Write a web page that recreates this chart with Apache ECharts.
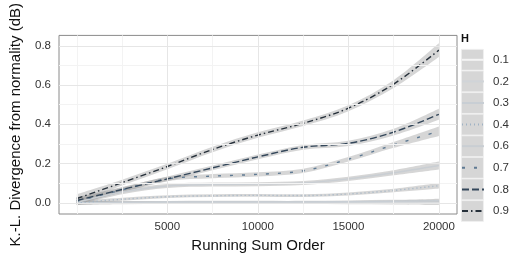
<!DOCTYPE html>
<html><head><meta charset="utf-8">
<script src="https://cdn.jsdelivr.net/npm/echarts@6/dist/echarts.min.js"></script>
<style>html,body{margin:0;padding:0;background:#fff}#c{width:512px;height:258px}</style>
</head><body><div id="c"></div>
<script>
// ---- data ----
const xs = [0, 2500, 5000, 7500, 10000, 12500, 15000, 17500, 20000];
const hLevels = ['0.1','0.2','0.3','0.4','0.6','0.7','0.8','0.9'];
const h01 = [-0.002,-0.001,-0.001,-0.001,-0.001,-0.001,-0.001,-0.001,-0.001];
const h02 = [-0.001,0.001,0.002,0.002,0.002,0.002,0.003,0.004,0.005];
const h03 = [0.0,0.003,0.004,0.005,0.005,0.005,0.006,0.008,0.011];
const h04 = [0.0,0.018,0.031,0.036,0.038,0.037,0.045,0.063,0.087];
const h06 = [0.002,0.055,0.086,0.093,0.095,0.101,0.122,0.153,0.19];
const h07 = [0.008,0.066,0.122,0.136,0.145,0.163,0.222,0.295,0.365];
const h08 = [0.012,0.068,0.122,0.178,0.234,0.283,0.303,0.36,0.451];
const h09 = [0.022,0.103,0.185,0.272,0.345,0.405,0.482,0.605,0.778];
// ribbon half-widths (confidence band)
const w01 = [0.008,0.006,0.005,0.005,0.005,0.005,0.006,0.007,0.01];
const w02 = [0.008,0.006,0.005,0.005,0.005,0.005,0.006,0.007,0.01];
const w03 = [0.008,0.006,0.005,0.005,0.005,0.005,0.006,0.007,0.01];
const w04 = [0.01,0.008,0.007,0.007,0.007,0.007,0.008,0.009,0.014];
const w06 = [0.014,0.011,0.01,0.01,0.01,0.01,0.011,0.013,0.02];
const w07 = [0.016,0.012,0.011,0.011,0.011,0.011,0.012,0.015,0.024];
const w08 = [0.018,0.013,0.012,0.012,0.012,0.012,0.013,0.017,0.028];
const w09 = [0.022,0.015,0.014,0.014,0.014,0.014,0.015,0.02,0.035];
const xTicks = [5000, 10000, 15000, 20000];
const xMinor = [0, 2500, 7500, 12500, 17500];
const yTicks = [0, 0.2, 0.4, 0.6, 0.8];
const yMinor = [0.1, 0.3, 0.5, 0.7];

const values = [h01,h02,h03,h04,h06,h07,h08,h09];
const widths = [w01,w02,w03,w04,w06,w07,w08,w09];
const lineColors = ['#f4f4f4','#d0d4d8','#c8ced4','#9fb2c4','#c9ced3','#5f7a93','#34475a','#27313b'];
const lineTypes = ['solid','solid','solid',[1,3],'solid',[3,9],[7,3],[6,3,1.5,3]];

function crPath(pts, start) {
  let d = start ? ('M' + pts[0][0] + ',' + pts[0][1]) : ('L' + pts[0][0] + ',' + pts[0][1]);
  for (let i = 0; i < pts.length - 1; i++) {
    const p0 = pts[Math.max(0, i - 1)], p1 = pts[i], p2 = pts[i + 1], p3 = pts[Math.min(pts.length - 1, i + 2)];
    const c1 = [p1[0] + (p2[0] - p0[0]) / 6, p1[1] + (p2[1] - p0[1]) / 6];
    const c2 = [p2[0] - (p3[0] - p1[0]) / 6, p2[1] - (p3[1] - p1[1]) / 6];
    d += 'C' + c1[0] + ',' + c1[1] + ' ' + c2[0] + ',' + c2[1] + ' ' + p2[0] + ',' + p2[1];
  }
  return d;
}

const series = [];
series.push({
  type:'line', data:[], silent:true, z:0, symbol:'none',
  markLine:{silent:true, symbol:['none','none'], label:{show:false}, animation:false,
    data:[
      ...xMinor.map(v=>({xAxis:v, lineStyle:{color:'#f3f3f3',width:1,type:'solid'}})),
      ...yMinor.map(v=>({yAxis:v, lineStyle:{color:'#f3f3f3',width:1,type:'solid'}})),
      ...xTicks.map(v=>({xAxis:v, lineStyle:{color:'#e6e6e6',width:1,type:'solid'}})),
      ...yTicks.map(v=>({yAxis:v, lineStyle:{color:'#e6e6e6',width:1,type:'solid'}}))
    ]}
});
values.forEach((vals,i)=>{
  const w = widths[i];
  series.push({type:'custom', silent:true, z:2, clip:true, data:[[0]],
    renderItem:(params, api)=>{
      const up = xs.map((x,k)=>api.coord([x, vals[k]+w[k]]));
      const lo = xs.map((x,k)=>api.coord([x, vals[k]-w[k]])).reverse();
      const d = crPath(up, true) + crPath(lo, false) + 'Z';
      return {type:'path', shape:{pathData:d}, style:{fill:'rgba(153,153,153,0.4)', stroke:null}};
    }});
});
values.forEach((vals,i)=>{
  series.push({name:hLevels[i], type:'line', smooth:0.33, symbol:'none', z:3, color:lineColors[i],
    lineStyle:{color:lineColors[i], width:1.4, type:lineTypes[i]},
    data: xs.map((x,k)=>[x, vals[k]])});
});

const chart = echarts.init(document.getElementById('c'), null, {renderer:'canvas'});
const keyTop = 49, keyH = 21.6;
chart.setOption({
  animation:false,
  backgroundColor:'#fff',
  grid:{left:55, right:55, top:17, bottom:44, show:true, borderColor:'#8a8a8a', borderWidth:1, backgroundColor:'#fff'},
  xAxis:{type:'value', min:-985, max:21000,
    name:'Running Sum Order', nameLocation:'middle', nameGap:22,
    nameTextStyle:{fontFamily:'Liberation Sans', fontSize:15, color:'#111'},
    axisLine:{show:false}, splitLine:{show:false},
    axisTick:{show:true, length:4, lineStyle:{color:'#555'}, customValues:xTicks},
    axisLabel:{customValues:xTicks, formatter:v=>String(v), fontFamily:'Liberation Sans', fontSize:11.5, color:'#333', margin:7}},
  yAxis:{type:'value', min:-0.057, max:0.853,
    name:'K.-L. Divergence from normality (dB)', nameLocation:'middle', nameGap:36,
    nameTextStyle:{fontFamily:'Liberation Sans', fontSize:15, color:'#111'},
    axisLine:{show:false}, splitLine:{show:false},
    axisTick:{show:true, length:4, lineStyle:{color:'#555'}, customValues:yTicks},
    axisLabel:{customValues:yTicks, formatter:v=>v.toFixed(1), fontFamily:'Liberation Sans', fontSize:11.5, color:'#333', margin:8}},
  title:{text:'H', left:461, top:33, padding:0, textStyle:{fontFamily:'Liberation Sans', fontSize:11, fontWeight:'bold', color:'#111'}},
  legend:{orient:'vertical', left:461, top:keyTop, padding:0, itemWidth:22, itemHeight:14, itemGap:0,
    data:hLevels, selectedMode:false, itemStyle:{opacity:0},
    textStyle:{fontFamily:'Liberation Sans', fontSize:11.5, lineHeight:keyH, color:'#333', padding:[0,0,0,4]}},
  graphic: hLevels.map((h,i)=>({type:'rect', left:461, top:keyTop+i*keyH, z:-1,
    shape:{width:22, height:keyH-0.8}, style:{fill:'#d6d6d6', stroke:'#efefef', lineWidth:0.8}})),
  series
});
</script></body></html>
